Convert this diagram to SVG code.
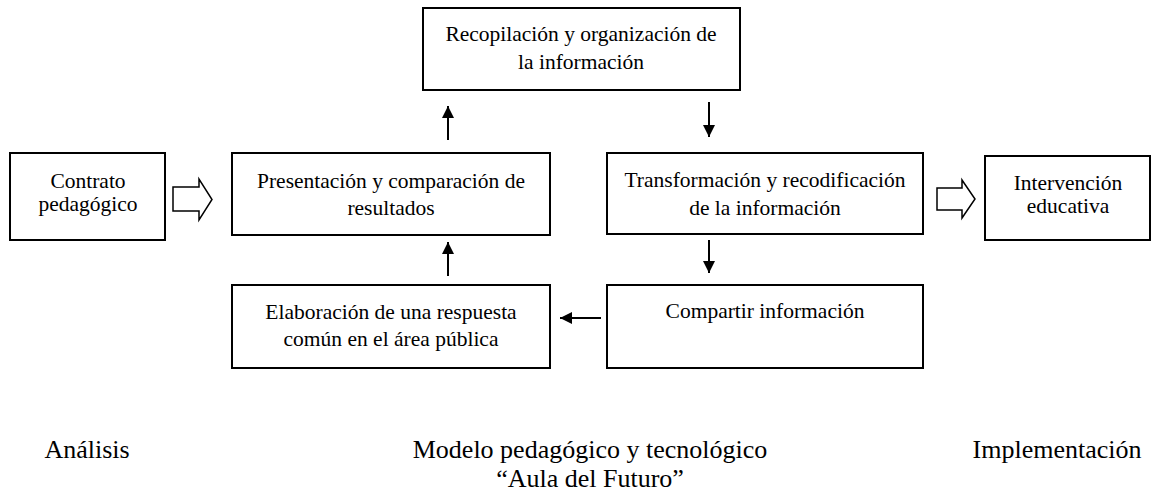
<svg xmlns="http://www.w3.org/2000/svg" width="1152" height="491" viewBox="0 0 1152 491">
<style>
.box{fill:#fff;stroke:#000;stroke-width:2}
.t{font-family:"Liberation Serif","Times New Roman",serif;font-size:21.5px;fill:#000;text-anchor:middle}
.b{font-family:"Liberation Serif","Times New Roman",serif;font-size:26px;fill:#000;text-anchor:middle}
.ln{stroke:#000;stroke-width:2;fill:none}
.blk{fill:#fff;stroke:#000;stroke-width:1.5}
</style>
<defs>
<marker id="ah" viewBox="0 0 10 10" refX="10" refY="5" markerWidth="6" markerHeight="6" markerUnits="strokeWidth" orient="auto">
<path d="M0,0 L10,5 L0,10 Z" fill="#000"/>
</marker>
</defs>
<rect width="1152" height="491" fill="#fff"/>
<g id="contrato"><rect class="box" x="10" y="153" width="155" height="87"/><text class="t" x="88" y="188">Contrato</text><text class="t" x="88" y="211">pedagógico</text></g>
<g id="presentacion"><rect class="box" x="232" y="153" width="318" height="82"/><text class="t" x="391" y="188">Presentación y comparación de</text><text class="t" x="391" y="215">resultados</text></g>
<g id="recopilacion"><rect class="box" x="423" y="8" width="317" height="82"/><text class="t" x="581" y="41">Recopilación y organización de</text><text class="t" x="581" y="69">la información</text></g>
<g id="transformacion"><rect class="box" x="607" y="153" width="316" height="81"/><text class="t" x="765" y="187">Transformación y recodificación</text><text class="t" x="765" y="215">de la información</text></g>
<g id="elaboracion"><rect class="box" x="232" y="285" width="318" height="83"/><text class="t" x="391" y="319">Elaboración de una respuesta</text><text class="t" x="391" y="346">común en el área pública</text></g>
<g id="compartir"><rect class="box" x="607" y="285" width="316" height="83"/><text class="t" x="765" y="318">Compartir información</text></g>
<g id="intervencion"><rect class="box" x="985" y="156" width="165" height="84"/><text class="t" x="1068" y="190">Intervención</text><text class="t" x="1068" y="213">educativa</text></g>
<g id="connectors">
<path class="blk" d="M173,187 H199 V179 L212,199.5 L199,220 V211 H173 Z"/>
<path class="blk" d="M937,188 H962 V180 L975,199 L962,218 V210 H937 Z"/>
<line class="ln" x1="448" y1="140" x2="448" y2="106" marker-end="url(#ah)"/>
<line class="ln" x1="709" y1="102" x2="709" y2="137" marker-end="url(#ah)"/>
<line class="ln" x1="709" y1="240" x2="709" y2="273" marker-end="url(#ah)"/>
<line class="ln" x1="448" y1="276" x2="448" y2="242" marker-end="url(#ah)"/>
<line class="ln" x1="601" y1="318" x2="560" y2="318" marker-end="url(#ah)"/>
</g>
<g id="labels">
<text class="b" x="87" y="458">Análisis</text>
<text class="b" x="590" y="458">Modelo pedagógico y tecnológico</text>
<text class="b" x="590" y="487">“Aula del Futuro”</text>
<text class="b" x="1057" y="458">Implementación</text>
</g>
</svg>
